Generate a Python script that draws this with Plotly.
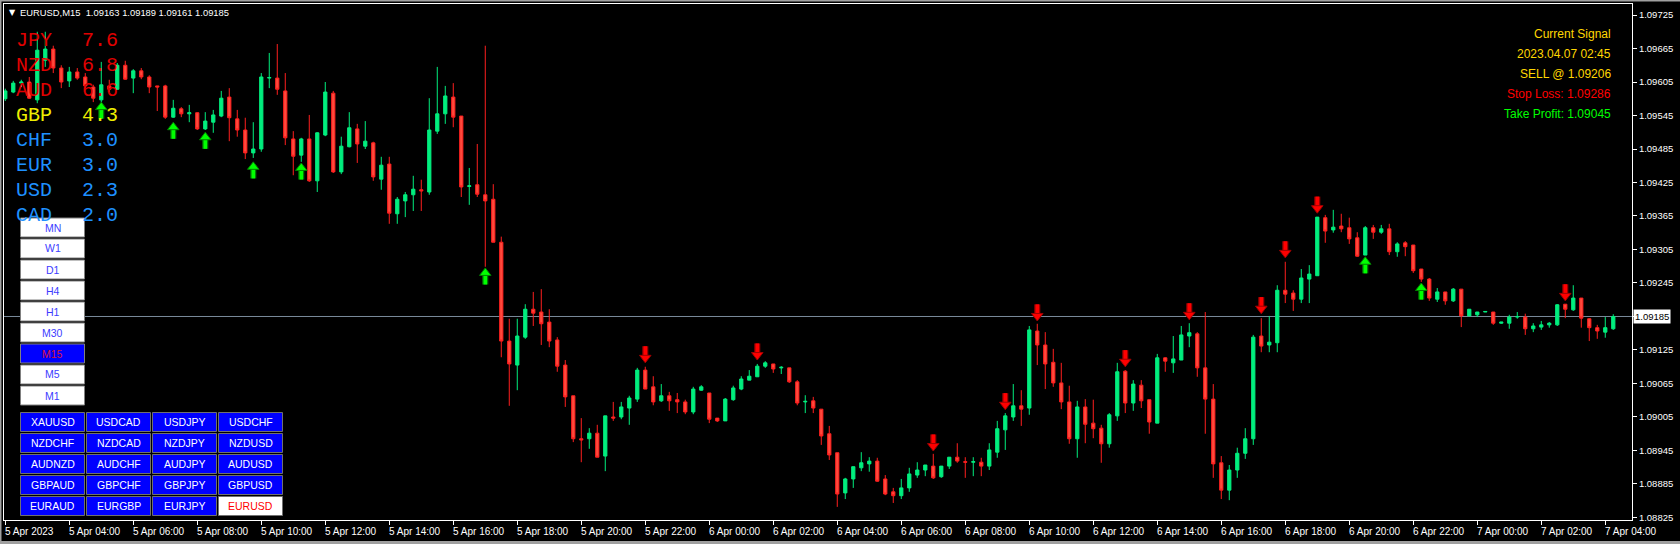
import plotly.graph_objects as go

# ---------------- data (EURUSD M15, bar 0 = 5 Apr 2023 02:00) ----------------
opens = [1.09575,1.09587,1.09603,1.09605,1.09573,1.09644,1.09664,1.09630,1.09607,1.09623,
         1.09614,1.09596,1.09573,1.09598,1.09592,1.09635,1.09612,1.09625,1.09614,1.09598,
         1.09598,1.09542,1.09557,1.09548,1.09550,1.09521,1.09533,1.09544,1.09578,1.09539,
         1.09519,1.09478,1.09485,1.09612,1.09612,1.09589,1.09503,1.09474,1.09503,1.09428,
         1.09510,1.09585,1.09444,1.09489,1.09521,1.09490,1.09496,1.09431,1.09458,1.09369,
         1.09392,1.09403,1.09412,1.09408,1.09517,1.09548,1.09578,1.09544,1.09418,1.09421,
         1.09403,1.09395,1.09318,1.09141,1.09098,1.09148,1.09198,1.09193,1.09175,1.09143,
         1.09098,1.09043,1.08966,1.08966,1.08976,1.08935,1.09005,1.09005,1.09021,1.09037,
         1.09089,1.09059,1.09034,1.09043,1.09036,1.09032,1.09014,1.09053,1.09048,1.09003,
         1.08998,1.09036,1.09055,1.09071,1.09077,1.09096,1.09100,1.09093,1.09093,1.09068,
         1.09032,1.09034,1.09019,1.08975,1.08941,1.08869,1.08894,1.08914,1.08921,1.08926,
         1.08894,1.08871,1.08864,1.08878,1.08901,1.08910,1.08917,1.08898,1.08917,1.08933,
         1.08925,1.08924,1.08924,1.08917,1.08942,1.08982,1.09005,1.09025,1.09021,1.09159,
         1.09134,1.09103,1.09066,1.09032,1.08966,1.09023,1.08994,1.08985,1.08957,1.09007,
         1.09087,1.09030,1.09062,1.09036,1.08994,1.09111,1.09102,1.09107,1.09150,1.09154,
         1.09093,1.09037,1.08923,1.08874,1.08910,1.08940,1.08966,1.09150,1.09134,1.09138,
         1.09232,1.09227,1.09216,1.09252,1.09258,1.09362,1.09340,1.09347,1.09344,1.09326,
         1.09295,1.09344,1.09336,1.09342,1.09301,1.09317,1.09313,1.09270,1.09252,1.09216,
         1.09229,1.09213,1.09234,1.09186,1.09188,1.09193,1.09193,1.09173,1.09173,1.09184,
         1.09184,1.09163,1.09166,1.09170,1.09170,1.09207,1.09197,1.09218,1.09181,1.09165,
         1.09157,1.09163]
highs = [1.09593,1.09607,1.09609,1.09614,1.09695,1.09695,1.09670,1.09635,1.09632,1.09630,
         1.09621,1.09600,1.09641,1.09609,1.09639,1.09643,1.09628,1.09630,1.09617,1.09598,
         1.09600,1.09573,1.09560,1.09564,1.09551,1.09551,1.09555,1.09589,1.09594,1.09555,
         1.09541,1.09533,1.09621,1.09657,1.09673,1.09621,1.09517,1.09505,1.09546,1.09515,
         1.09605,1.09589,1.09507,1.09551,1.09530,1.09535,1.09498,1.09471,1.09471,1.09399,
         1.09408,1.09437,1.09430,1.09576,1.09632,1.09598,1.09603,1.09544,1.09451,1.09494,
         1.09670,1.09422,1.09328,1.09181,1.09181,1.09207,1.09229,1.09234,1.09198,1.09148,
         1.09107,1.09043,1.09003,1.08985,1.08991,1.09007,1.09032,1.09032,1.09043,1.09093,
         1.09095,1.09078,1.09064,1.09050,1.09048,1.09036,1.09059,1.09062,1.09048,1.09003,
         1.09039,1.09061,1.09078,1.09089,1.09100,1.09105,1.09100,1.09096,1.09093,1.09071,
         1.09044,1.09041,1.09019,1.08989,1.08941,1.08896,1.08916,1.08942,1.08933,1.08932,
         1.08901,1.08878,1.08894,1.08914,1.08924,1.08919,1.08939,1.08917,1.08933,1.08958,
         1.08933,1.08933,1.08932,1.08958,1.08998,1.09012,1.09064,1.09053,1.09168,1.09172,
         1.09157,1.09127,1.09102,1.09061,1.09034,1.09037,1.09036,1.08991,1.09012,1.09102,
         1.09089,1.09071,1.09071,1.09036,1.09118,1.09112,1.09150,1.09168,1.09173,1.09157,
         1.09193,1.09064,1.08935,1.08919,1.08950,1.08985,1.09152,1.09182,1.09186,1.09241,
         1.09283,1.09232,1.09270,1.09277,1.09363,1.09367,1.09376,1.09369,1.09362,1.09336,
         1.09347,1.09349,1.09349,1.09351,1.09318,1.09320,1.09313,1.09270,1.09254,1.09236,
         1.09229,1.09236,1.09234,1.09198,1.09193,1.09194,1.09193,1.09175,1.09188,1.09193,
         1.09190,1.09173,1.09177,1.09175,1.09207,1.09207,1.09241,1.09218,1.09182,1.09170,
         1.09184,1.09189]
lows = [1.09571,1.09585,1.09596,1.09575,1.09567,1.09632,1.09621,1.09594,1.09596,1.09609,
        1.09594,1.09569,1.09569,1.09587,1.09591,1.09609,1.09585,1.09610,1.09585,1.09553,
        1.09539,1.09541,1.09542,1.09533,1.09519,1.09519,1.09514,1.09542,1.09499,1.09507,
        1.09467,1.09469,1.09480,1.09594,1.09582,1.09492,1.09438,1.09462,1.09426,1.09408,
        1.09508,1.09442,1.09440,1.09488,1.09460,1.09485,1.09428,1.09412,1.09351,1.09351,
        1.09363,1.09374,1.09374,1.09403,1.09512,1.09530,1.09524,1.09399,1.09385,1.09399,
        1.09274,1.09318,1.09112,1.09025,1.09053,1.09145,1.09168,1.09134,1.09130,1.09086,
        1.09023,1.08960,1.08924,1.08948,1.08933,1.08908,1.08998,1.09001,1.08991,1.09032,
        1.09055,1.09026,1.09032,1.09016,1.09012,1.09010,1.09010,1.09052,1.08994,1.08996,
        1.08998,1.09034,1.09053,1.09071,1.09077,1.09093,1.09084,1.09082,1.09066,1.09026,
        1.09012,1.09012,1.08955,1.08928,1.08844,1.08858,1.08878,1.08908,1.08907,1.08889,
        1.08865,1.08851,1.08858,1.08871,1.08896,1.08899,1.08894,1.08896,1.08912,1.08923,
        1.08896,1.08899,1.08899,1.08910,1.08932,1.08946,1.08998,1.08989,1.09009,1.09098,
        1.09055,1.09059,1.09019,1.08957,1.08932,1.08958,1.08967,1.08923,1.08950,1.08998,
        1.09012,1.09016,1.09021,1.08975,1.08994,1.09086,1.09084,1.09107,1.09130,1.09077,
        1.08975,1.08896,1.08858,1.08856,1.08896,1.08930,1.08955,1.09121,1.09121,1.09121,
        1.09209,1.09195,1.09209,1.09209,1.09258,1.09317,1.09335,1.09336,1.09315,1.09292,
        1.09295,1.09324,1.09333,1.09295,1.09292,1.09293,1.09263,1.09247,1.09213,1.09211,
        1.09206,1.09211,1.09166,1.09186,1.09184,1.09193,1.09170,1.09172,1.09163,1.09181,
        1.09152,1.09157,1.09161,1.09165,1.09168,1.09182,1.09195,1.09165,1.09141,1.09145,
        1.09147,1.09161]
closes = [1.09589,1.09603,1.09605,1.09576,1.09662,1.09664,1.09630,1.09605,1.09623,1.09612,
          1.09598,1.09576,1.09600,1.09592,1.09635,1.09610,1.09625,1.09614,1.09596,1.09596,
          1.09542,1.09558,1.09548,1.09550,1.09521,1.09535,1.09546,1.09576,1.09541,1.09519,
          1.09478,1.09485,1.09614,1.09613,1.09592,1.09505,1.09472,1.09503,1.09428,1.09514,
          1.09587,1.09444,1.09490,1.09523,1.09494,1.09499,1.09435,1.09456,1.09370,1.09395,
          1.09403,1.09413,1.09410,1.09519,1.09548,1.09580,1.09542,1.09417,1.09419,1.09404,
          1.09392,1.09318,1.09141,1.09100,1.09150,1.09198,1.09191,1.09172,1.09141,1.09096,
          1.09041,1.08966,1.08964,1.08976,1.08933,1.09007,1.09003,1.09023,1.09039,1.09089,
          1.09055,1.09032,1.09043,1.09034,1.09032,1.09014,1.09055,1.09059,1.09001,1.08998,
          1.09037,1.09057,1.09073,1.09078,1.09096,1.09102,1.09091,1.09094,1.09068,1.09030,
          1.09033,1.09021,1.08971,1.08937,1.08867,1.08894,1.08916,1.08923,1.08926,1.08890,
          1.08867,1.08864,1.08878,1.08903,1.08910,1.08919,1.08896,1.08917,1.08933,1.08926,
          1.08924,1.08925,1.08917,1.08946,1.08984,1.09007,1.09025,1.09019,1.09161,1.09134,
          1.09100,1.09066,1.09032,1.08966,1.09023,1.08992,1.08984,1.08957,1.09009,1.09086,
          1.09030,1.09064,1.09034,1.08996,1.09111,1.09105,1.09109,1.09152,1.09156,1.09093,
          1.09037,1.08921,1.08874,1.08910,1.08940,1.08966,1.09148,1.09132,1.09139,1.09232,
          1.09225,1.09216,1.09254,1.09261,1.09363,1.09338,1.09345,1.09342,1.09324,1.09293,
          1.09344,1.09336,1.09342,1.09301,1.09315,1.09310,1.09267,1.09252,1.09218,1.09229,
          1.09213,1.09234,1.09186,1.09198,1.09193,1.09194,1.09173,1.09175,1.09184,1.09185,
          1.09163,1.09168,1.09170,1.09173,1.09206,1.09198,1.09218,1.09182,1.09165,1.09159,
          1.09165,1.09185]
bars = list(range(len(opens)))

buy_bars = [12, 21, 25, 31, 37, 60, 170, 177]
buy_tips = [1.09569, 1.09533, 1.09515, 1.09462, 1.09460, 1.09272, 1.09292, 1.09245]
sell_bars = [80, 94, 116, 125, 129, 140, 148, 157, 160, 164, 195]
sell_tips = [1.09102, 1.09107, 1.08944, 1.09018, 1.09177, 1.09095, 1.09179, 1.09190,
             1.09290, 1.09370, 1.09213]

time_tick_bars = [0, 8, 16, 24, 32, 40, 48, 56, 64, 72, 80, 88, 96, 104, 112, 120, 128,
                  136, 144, 152, 160, 168, 176, 184, 192, 200]
time_tick_labels = ["5 Apr 2023", "5 Apr 04:00", "5 Apr 06:00", "5 Apr 08:00", "5 Apr 10:00",
                    "5 Apr 12:00", "5 Apr 14:00", "5 Apr 16:00", "5 Apr 18:00", "5 Apr 20:00",
                    "5 Apr 22:00", "6 Apr 00:00", "6 Apr 02:00", "6 Apr 04:00", "6 Apr 06:00",
                    "6 Apr 08:00", "6 Apr 10:00", "6 Apr 12:00", "6 Apr 14:00", "6 Apr 16:00",
                    "6 Apr 18:00", "6 Apr 20:00", "6 Apr 22:00", "7 Apr 00:00", "7 Apr 02:00",
                    "7 Apr 04:00"]
price_ticks = [1.09725, 1.09665, 1.09605, 1.09545, 1.09485, 1.09425, 1.09365, 1.09305,
               1.09245, 1.09185, 1.09125, 1.09065, 1.09005, 1.08945, 1.08885, 1.08825]
price_tick_labels = ["1.09725", "1.09665", "1.09605", "1.09545", "1.09485", "1.09425",
                     "1.09365", "1.09305", "1.09245", "", "1.09125", "1.09065",
                     "1.09005", "1.08945", "1.08885", "1.08825"]
bid_price = 1.09185

strength_ccy = ["JPY", "NZD", "AUD", "GBP", "CHF", "EUR", "USD", "CAD"]
strength_val = ["7.6", "6.8", "6.6", "4.3", "3.0", "3.0", "2.3", "2.0"]
strength_col = ["#E00000", "#E00000", "#E00000", "#EEEE00", "#1E90FF", "#1E90FF", "#1E90FF", "#1E90FF"]

timeframes = ["MN", "W1", "D1", "H4", "H1", "M30", "M15", "M5", "M1"]
active_tf = "M15"
symbols = [["XAUUSD", "USDCAD", "USDJPY", "USDCHF"],
           ["NZDCHF", "NZDCAD", "NZDJPY", "NZDUSD"],
           ["AUDNZD", "AUDCHF", "AUDJPY", "AUDUSD"],
           ["GBPAUD", "GBPCHF", "GBPJPY", "GBPUSD"],
           ["EURAUD", "EURGBP", "EURJPY", "EURUSD"]]
active_symbol = "EURUSD"

signal_lines = ["Current Signal", "2023.04.07 02:45", "SELL @ 1.09206",
                "Stop Loss: 1.09286", "Take Profit: 1.09045"]
signal_colors = ["#FFD700", "#FFD700", "#FFD700", "#FF0000", "#00FF00"]

header = "EURUSD,M15\u00a0\u00a01.09163 1.09189 1.09161 1.09185"

# ---------------- layout geometry ----------------
W, H = 1680, 544
PL, PR, PT, PB = 4, 1632, 4, 520           # plot area in pixels
Y_MIN, Y_MAX = 1.088205, 1.097447
X_MIN, X_MAX = -0.16, 203.34
PXP = (Y_MAX - Y_MIN) / (PB - PT)          # price per pixel

def px(x):
    return (x - PL) / (PR - PL)

def py(y):
    return (PB - y) / (PB - PT)

GREEN = "#00EE7E"
RED_FILL = "#FF4A3C"
RED_LINE = "#FF1E1E"
FONT = "Liberation Sans, Arial, sans-serif"

fig = go.Figure()

fig.add_trace(go.Candlestick(
    x=bars, open=opens, high=highs, low=lows, close=closes,
    increasing=dict(line=dict(color=GREEN, width=1), fillcolor=GREEN),
    decreasing=dict(line=dict(color=RED_LINE, width=1), fillcolor=RED_FILL),
    whiskerwidth=0, hoverinfo="skip", showlegend=False))

# arrows: shaft + head
def add_arrows(xs, tips, up, fill, edge):
    sgn = -1 if up else 1
    shaft_y = [t + sgn * 11 * PXP for t in tips]
    head_y = [t + sgn * 5 * PXP for t in tips]
    fig.add_trace(go.Scatter(x=xs, y=shaft_y, mode="markers", hoverinfo="skip", showlegend=False,
                             marker=dict(symbol="line-ns", size=8, line=dict(color=edge, width=6))))
    fig.add_trace(go.Scatter(x=xs, y=shaft_y, mode="markers", hoverinfo="skip", showlegend=False,
                             marker=dict(symbol="line-ns", size=8, line=dict(color=fill, width=3.5))))
    fig.add_trace(go.Scatter(x=xs, y=head_y, mode="markers", hoverinfo="skip", showlegend=False,
                             marker=dict(symbol="triangle-up" if up else "triangle-down", size=10,
                                         color=fill, line=dict(color=edge, width=1))))

add_arrows(buy_bars, buy_tips, True, "#00FF00", "#008000")
add_arrows(sell_bars, sell_tips, False, "#FF0000", "#A00000")

shapes = []
annotations = []

# bid line
shapes.append(dict(type="line", xref="paper", yref="y", x0=0, x1=1, y0=bid_price, y1=bid_price,
                   line=dict(color="#7A8A9A", width=1), layer="below"))

# outer gray frame of the window
shapes.append(dict(type="rect", xref="paper", yref="paper", x0=px(0), x1=px(1.5), y0=py(544), y1=py(0),
                   fillcolor="#A0A0A0", line=dict(width=0), layer="above"))
shapes.append(dict(type="rect", xref="paper", yref="paper", x0=px(0), x1=px(1680), y0=py(1.5), y1=py(0),
                   fillcolor="#A0A0A0", line=dict(width=0), layer="above"))
shapes.append(dict(type="rect", xref="paper", yref="paper", x0=px(0), x1=px(1680), y0=py(544), y1=py(541),
                   fillcolor="#A0A0A0", line=dict(width=0), layer="above"))

# header
annotations.append(dict(xref="paper", yref="paper", x=px(7), y=py(12), xanchor="left", yanchor="middle",
                        text="\u25bc", showarrow=False, font=dict(family="DejaVu Sans", size=8, color="white")))
annotations.append(dict(xref="paper", yref="paper", x=px(18), y=py(12), xanchor="left", yanchor="middle",
                        text=header, showarrow=False, font=dict(family=FONT, size=9.4, color="white")))

# currency strength table
for i, (c, v, col) in enumerate(zip(strength_ccy, strength_val, strength_col)):
    yc = 40.5 + 25 * i
    for txt, x0 in ((c, 14), (v, 80)):
        annotations.append(dict(xref="paper", yref="paper", x=px(x0), y=py(yc), xanchor="left",
                                yanchor="middle", text=txt, showarrow=False,
                                font=dict(family="Courier New, Liberation Mono, monospace", size=20, color=col)))

# timeframe buttons
for i, tf in enumerate(timeframes):
    y0 = 218 + 21 * i
    active = tf == active_tf
    shapes.append(dict(type="rect", xref="paper", yref="paper", x0=px(20.5), x1=px(84.5),
                       y0=py(y0 + 19), y1=py(y0), fillcolor="#0000FF" if active else "#FFFFFF",
                       line=dict(color="#808080", width=1), layer="above"))
    annotations.append(dict(xref="paper", yref="paper", x=px(52.5), y=py(y0 + 9.5), xanchor="center",
                            yanchor="middle", text=tf, showarrow=False,
                            font=dict(family=FONT, size=10.5, color="#DC143C" if active else "#3C3CFF")))

# symbol buttons
for r, row in enumerate(symbols):
    for c, sym in enumerate(row):
        x0 = 20.5 + 66 * c
        y0 = 412.5 + 21 * r
        active = sym == active_symbol
        shapes.append(dict(type="rect", xref="paper", yref="paper", x0=px(x0), x1=px(x0 + 64),
                           y0=py(y0 + 19), y1=py(y0), fillcolor="#FFFFFF" if active else "#0000FF",
                           line=dict(color="#707070", width=1), layer="above"))
        annotations.append(dict(xref="paper", yref="paper", x=px(x0 + 32), y=py(y0 + 9.5), xanchor="center",
                                yanchor="middle", text=sym, showarrow=False,
                                font=dict(family=FONT, size=10.5, color="#FF0000" if active else "#FFFFFF")))

# signal panel
for i, (t, col) in enumerate(zip(signal_lines, signal_colors)):
    annotations.append(dict(xref="paper", yref="paper", x=px(1613), y=py(33.7 + 20 * i), xanchor="right",
                            yanchor="middle", text=t, showarrow=False,
                            font=dict(family=FONT, size=12, color=col)))

# time axis labels (left-aligned at tick)
for b, lab in zip(time_tick_bars, time_tick_labels):
    annotations.append(dict(xref="x", yref="paper", x=b, y=py(531), xanchor="left", yanchor="middle",
                            xshift=-2, text=lab, showarrow=False,
                            font=dict(family=FONT, size=10, color="white")))

# current price box
annotations.append(dict(xref="paper", yref="y", x=px(1633), y=bid_price, xanchor="left", yanchor="middle",
                        text=f"{bid_price:.5f}", showarrow=False, bgcolor="#FFFFFF", borderpad=1,
                        font=dict(family=FONT, size=9.5, color="#000000")))

fig.update_layout(
    width=W, height=H, autosize=False,
    margin=dict(l=PL, r=W - PR, t=PT, b=H - PB, pad=0),
    paper_bgcolor="#000000", plot_bgcolor="#000000",
    showlegend=False, boxgap=0.42,
    shapes=shapes, annotations=annotations,
    xaxis=dict(range=[X_MIN, X_MAX], showgrid=False, zeroline=False, showline=True, mirror=True,
               linecolor="#FFFFFF", linewidth=1, ticks="outside", ticklen=4, tickcolor="#FFFFFF",
               tickvals=time_tick_bars, showticklabels=False, rangeslider=dict(visible=False),
               fixedrange=True, automargin=False),
    yaxis=dict(range=[Y_MIN, Y_MAX], side="right", showgrid=False, zeroline=False, showline=True,
               mirror=True, linecolor="#FFFFFF", linewidth=1, ticks="outside", ticklen=4,
               tickcolor="#FFFFFF", tickvals=price_ticks, ticktext=price_tick_labels,
               tickfont=dict(family=FONT, size=9.5, color="#FFFFFF"), fixedrange=True,
               automargin=False),
)

fig.write_html("out.html", config={"displayModeBar": False, "staticPlot": True},
               post_script="document.body.style.margin='0';document.body.style.overflow='hidden';")
